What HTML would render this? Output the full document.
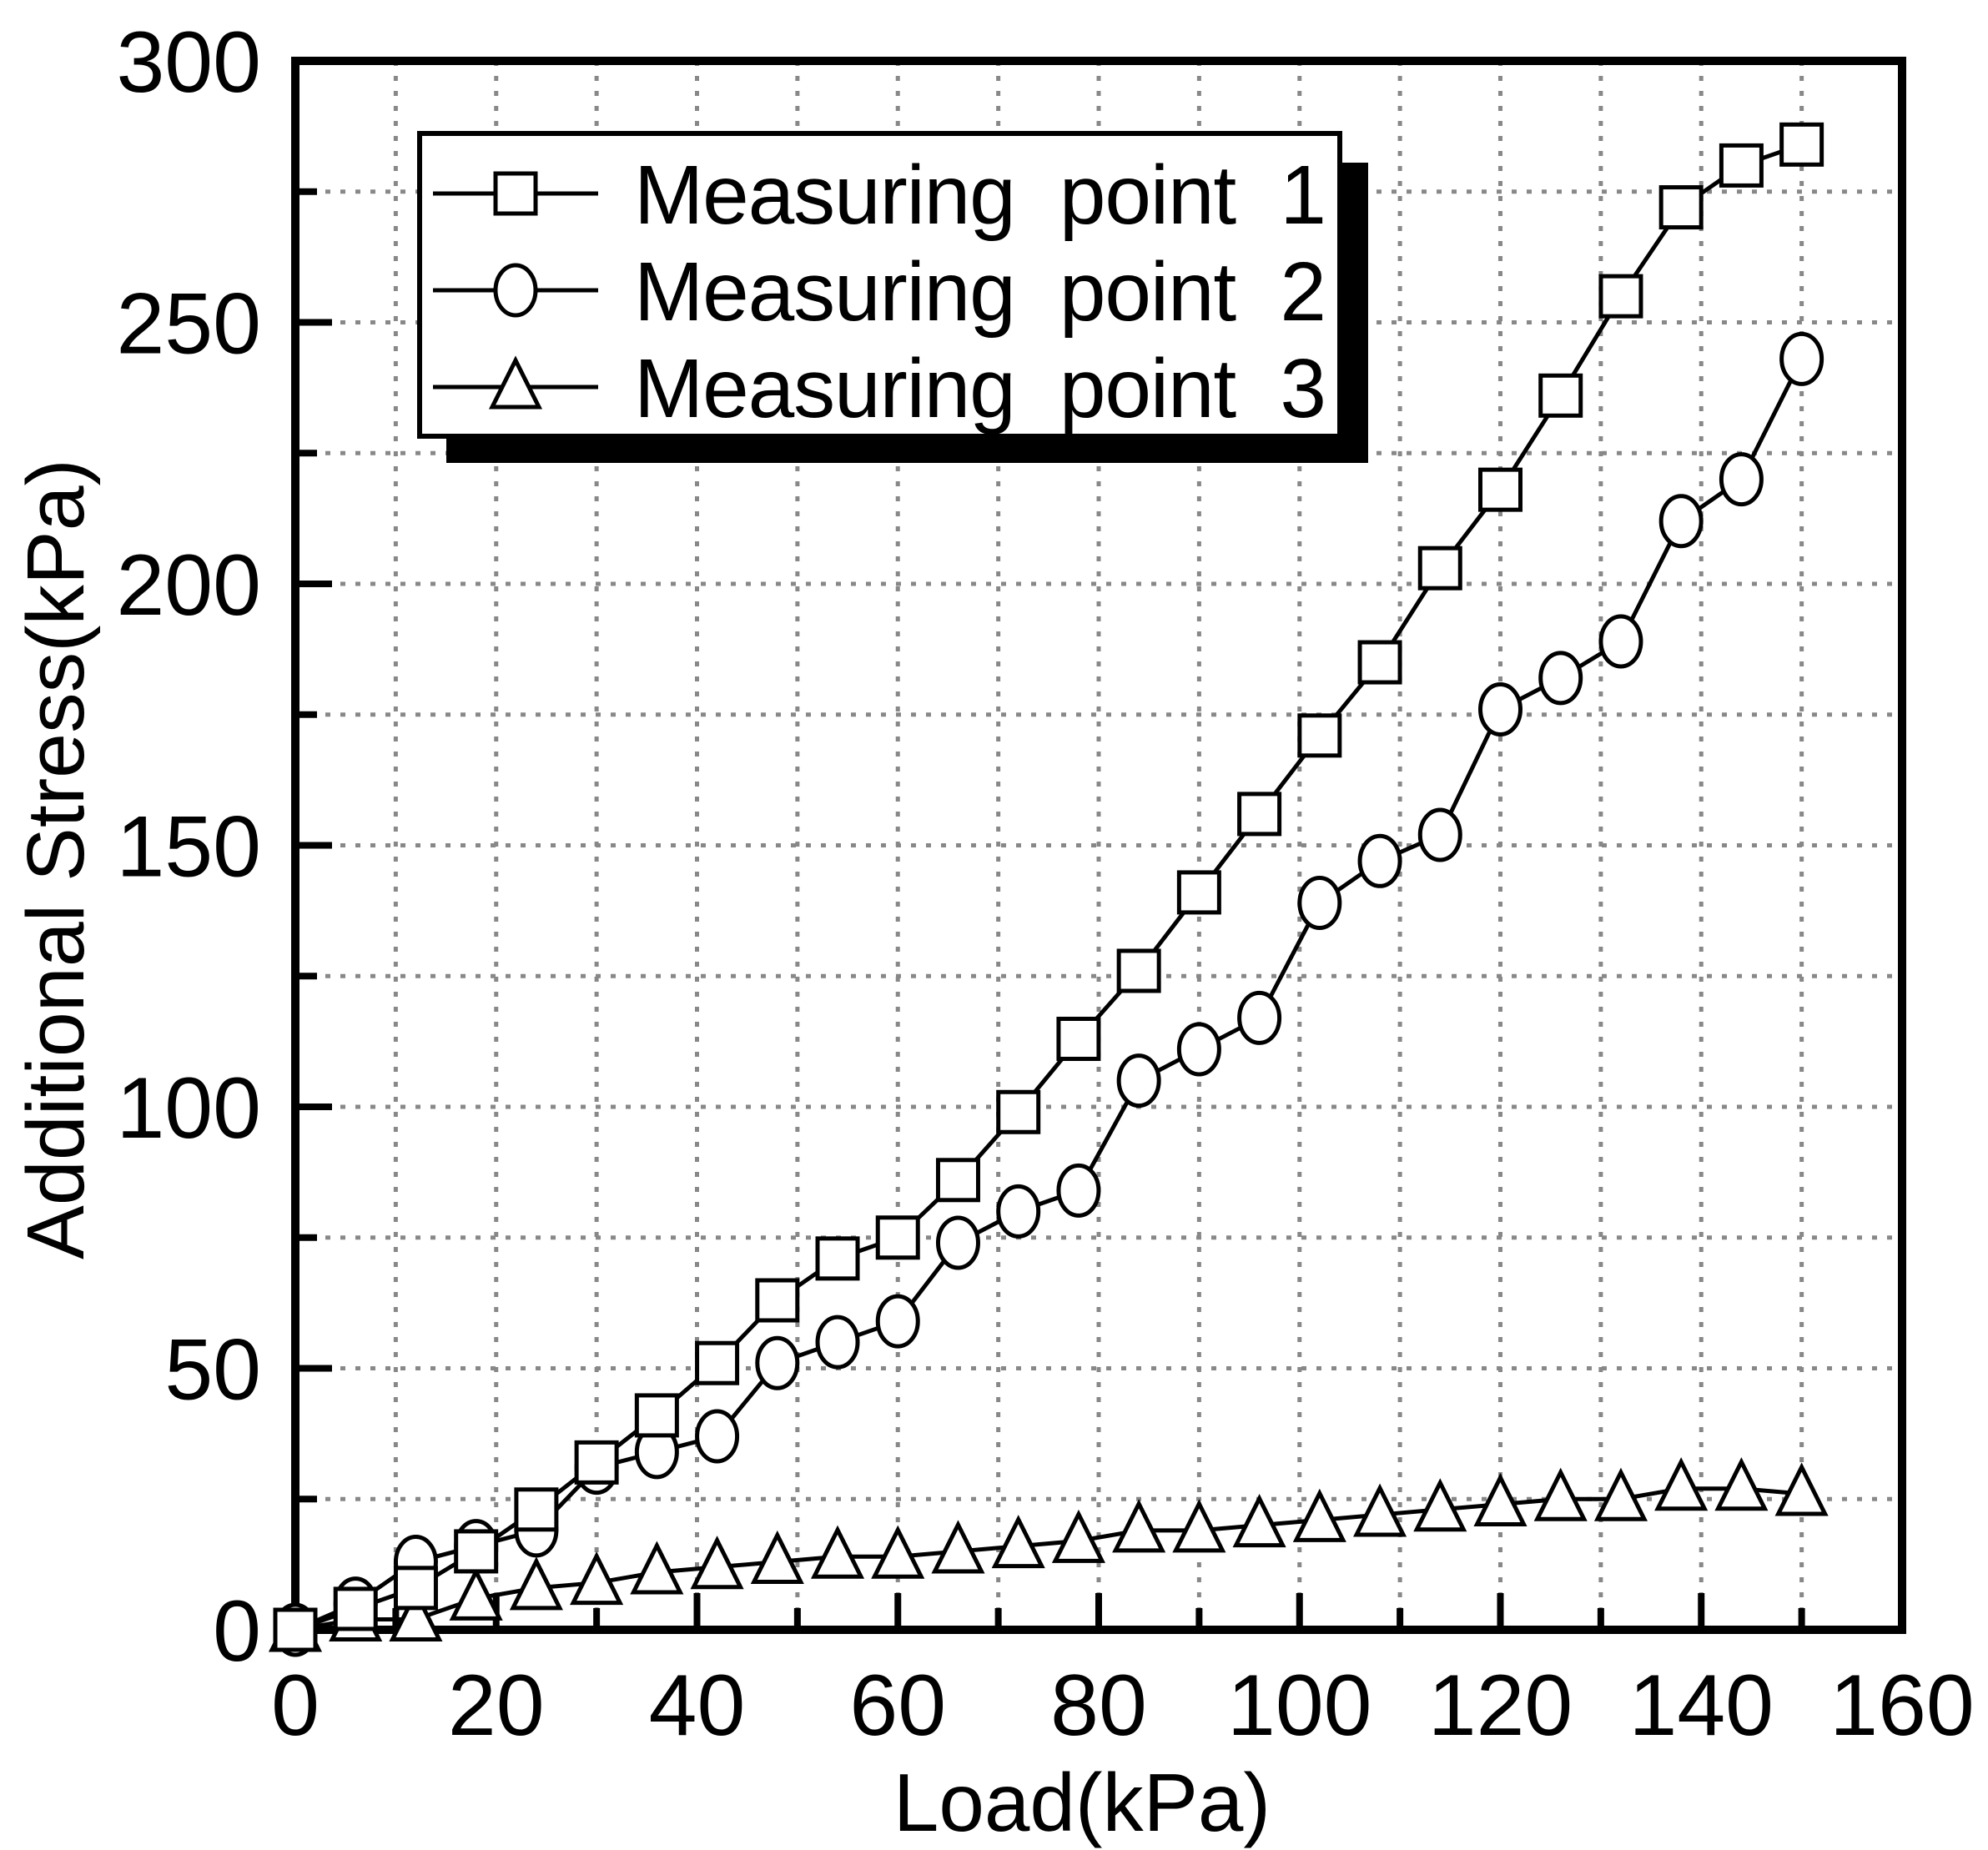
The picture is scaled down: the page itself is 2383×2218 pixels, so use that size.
<!DOCTYPE html>
<html><head><meta charset="utf-8"><style>
html,body{margin:0;padding:0;background:#fff;}
svg{display:block;font-family:"Liberation Sans",Arial,sans-serif;}
</style></head><body>
<svg id="s" width="2383" height="2218" viewBox="0 0 2383 2218" xmlns="http://www.w3.org/2000/svg"></svg>
<script>
const s=document.getElementById('s');
const L=354,R=2280,T=73,B=1954;
const X=v=>L+(R-L)*v/160, Y=v=>B-(B-T)*v/300;
let h='';
for(let v=10;v<160;v+=10)h+=`<line x1="${X(v)}" y1="${T}" x2="${X(v)}" y2="${B}" stroke="#888" stroke-width="5" stroke-dasharray="6 12"/>`;
for(let v=25;v<300;v+=25)h+=`<line x1="${L}" y1="${Y(v)}" x2="${R}" y2="${Y(v)}" stroke="#888" stroke-width="5" stroke-dasharray="6 12"/>`;
for(let v=0;v<=160;v+=10){const big=v%20==0;h+=`<line x1="${X(v)}" y1="${B}" x2="${X(v)}" y2="${B-(big?44:26)}" stroke="#000" stroke-width="8"/>`;
 if(big)h+=`<text x="${X(v)}" y="2080" font-size="104" text-anchor="middle">${v}</text>`;}
for(let v=0;v<=300;v+=25){const big=v%50==0;h+=`<line x1="${L}" y1="${Y(v)}" x2="${L+(big?44:26)}" y2="${Y(v)}" stroke="#000" stroke-width="8"/>`;
 if(big)h+=`<text x="313" y="${Y(v)+37}" font-size="104" text-anchor="end">${v}</text>`;}
h+=`<rect x="${L}" y="${T}" width="${R-L}" height="${B-T}" fill="none" stroke="#000" stroke-width="10"/>`;
h+=`<text x="1297" y="2195" font-size="98" text-anchor="middle">Load(kPa)</text>`;
h+=`<text transform="translate(100,1030) rotate(-90)" font-size="97" text-anchor="middle">Additional Stress(kPa)</text>`;
const d1=[0,4,8,15,23,32,41,51,63,71,75,86,99,113,126,141,156,171,185,203,218,236,255,272,280,284];
const d2=[0,5,13,16,19,31,34,37,51,55,59,74,80,84,105,111,117,139,147,152,176,182,189,212,220,243];
const d3=[0,2,2,6,8,9,11,12,13,14,14,15,16,17,19,19,20,21,22,23,24,25,25,27,27,26];
function mk(t,x,y){
 if(t==0)return `<rect x="${x-24}" y="${y-24}" width="48" height="48" fill="#fff" stroke="#000" stroke-width="5"/>`;
 if(t==1)return `<ellipse cx="${x}" cy="${y}" rx="24" ry="30" fill="#fff" stroke="#000" stroke-width="5"/>`;
 return `<polygon points="${x},${y-32} ${x+28},${y+24} ${x-28},${y+24}" fill="#fff" stroke="#000" stroke-width="5"/>`;
}
[d1,d2,d3].forEach((d,t)=>{
 h+=`<polyline fill="none" stroke="#000" stroke-width="5" points="${d.map((v,i)=>X(i*6)+','+Y(v)).join(' ')}"/>`;
});
[d3,d2,d1].forEach((d,k)=>{const t=2-k;d.forEach((v,i)=>h+=mk(t,X(i*6),Y(v)));});
h+=`<rect x="535" y="195" width="1105" height="360" fill="#000"/>`;
h+=`<rect x="503" y="160" width="1103" height="363" fill="#fff" stroke="#000" stroke-width="6"/>`;
['Measuring\u00a0\u00a0point\u00a0\u00a01','Measuring\u00a0\u00a0point\u00a0\u00a02','Measuring\u00a0\u00a0point\u00a0\u00a03'].forEach((tx,i)=>{
 const y=232+i*116;
 h+=`<line x1="519" y1="${y}" x2="717" y2="${y}" stroke="#000" stroke-width="5"/>`;
 h+=mk(i,618,y);
 h+=`<text x="760" y="${y+36}" font-size="100" textLength="830" lengthAdjust="spacing">${tx}</text>`;
});
s.innerHTML=h;
</script>
</body></html>
